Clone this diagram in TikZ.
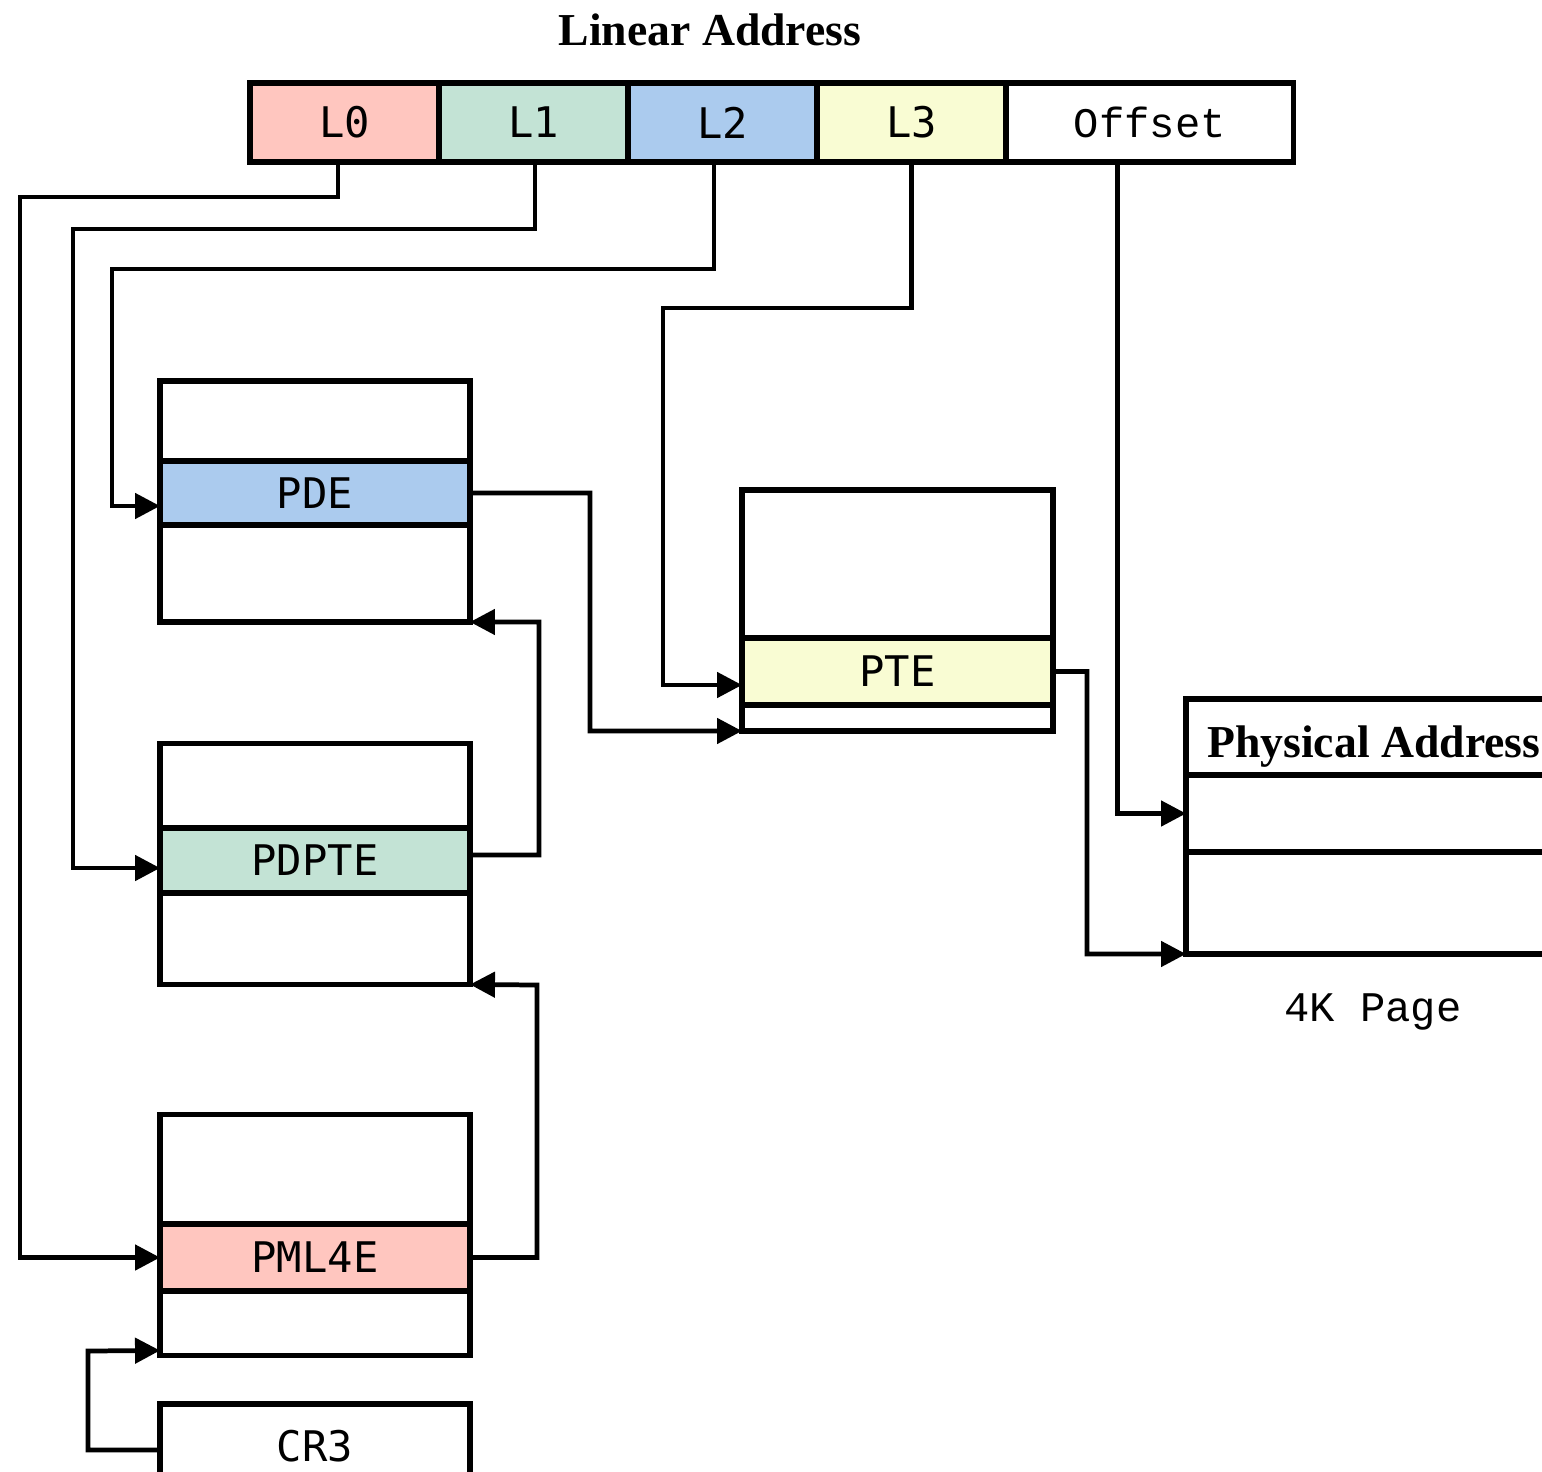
\documentclass[tikz,border=0pt]{standalone}
\usepackage{fontspec}
\usepackage{tikz}
\usetikzlibrary{arrows.meta,positioning}
\newfontfamily\cellfont{DejaVu Sans Mono}
\newfontfamily\thinfont{Liberation Mono}
\newfontfamily\headfont{Liberation Serif}
\definecolor{lzero}{HTML}{FFC6BF}
\definecolor{lone}{HTML}{C3E3D5}
\definecolor{ltwo}{HTML}{ABCBEE}
\definecolor{lthree}{HTML}{F9FCD3}

\begin{document}
\begin{tikzpicture}[x=0.02cm,y=-0.02cm,
	box/.style={draw,line width=3pt,outer sep=0pt,inner sep=0pt},
	field/.style={box,minimum width=3.78cm,minimum height=1.58cm,font=\cellfont\fontsize{24}{28}\selectfont},
	ptable/.style={box,minimum width=6.2cm,minimum height=4.82cm},
	entry/.style={box,minimum width=6.2cm,font=\cellfont\fontsize{24}{28}\selectfont},
	link/.style={line width=2.7pt,-{Triangle[length=0.5cm,width=0.5cm]}}]
	    \useasboundingbox (0,0) rectangle (1542,1471);
	    \node[font=\headfont\bfseries\fontsize{26}{30}\selectfont,anchor=base] (title) at (710,45) {Linear Address};
	    \node[field,fill=lzero] (l0) at (344.5,122.5) {L0};
	    \node[field,fill=lone,right=0pt of l0] (l1) {L1};
	    \node[field,fill=ltwo,right=0pt of l1] (l2) {L2};
	    \node[field,fill=lthree,right=0pt of l2] (l3) {L3};
	    \node[field,minimum width=5.76cm,right=0pt of l3,font=\thinfont\fontsize{24}{28}\selectfont] (off) {Offset};
	    \node[ptable] (pdetab) at (315,501.5) {};
	    \node[entry,fill=ltwo,minimum height=1.28cm] (pde) at (315,493) {PDE};
	    \node[ptable] (pdptetab) at (315,864) {};
	    \node[entry,fill=lone,minimum height=1.3cm] (pdpte) at (315,860.5) {PDPTE};
	    \node[ptable] (pmltab) at (315,1235) {};
	    \node[entry,fill=lzero,minimum height=1.34cm] (pml4e) at (315,1257.5) {PML4E};
	    \node[entry,minimum height=1.68cm] (cr3) at (315,1446) {CR3};
	    \node[ptable,minimum width=6.22cm] (ptetab) at (897.5,610.5) {};
	    \node[entry,fill=lthree,minimum width=6.22cm,minimum height=1.34cm] (pte) at (897.5,671.5) {PTE};
	    \node[box,minimum width=8.68cm,minimum height=5.1cm] (page) at (1403,826.5) {};
	    \node[box,minimum width=8.68cm,minimum height=1.54cm] (pword) at (1403,813.5) {};
	    \node[font=\headfont\bfseries\fontsize{26}{30}\selectfont,inner sep=0pt,anchor=base west] (phys) at (1207,757) {Physical Address};
	    \node[font=\thinfont\fontsize{24}{28}\selectfont,anchor=base] (size) at (1373,1021) {4K Page};
	    \draw[link] ([xshift=-0.13cm]l0.south) |- (20,197) |- (pml4e.west);
	    \draw[link] ([xshift=0.03cm]l1.south) |- (73,229) |- ([yshift=-0.15cm]pdpte.west);
	    \draw[link] ([xshift=-0.17cm]l2.south) |- (112,269) |- ([yshift=-0.26cm]pde.west);
	    \draw[link] (l3.south) |- (663,308) |- ([yshift=-0.27cm]pte.west);
	    \draw[link] ([xshift=-0.64cm]off.south) |- (pword.west);
	    \draw[link] (pde.east) -| (590,731) -- (ptetab.south west);
	    \draw[link] (pte.east) -| (1087,954) -- (page.south west);
	    \draw[link] ([yshift=0.11cm]pdpte.east) -| (539,622) -- (pdetab.south east);
	    \draw[link] (pml4e.east) -| (537,985) -- (pdptetab.south east);
	    \draw[link] ([yshift=-0.08cm]cr3.west) -| (88,1351) -- ([yshift=0.1cm]pmltab.south west);
	\end{tikzpicture}
\end{document}
